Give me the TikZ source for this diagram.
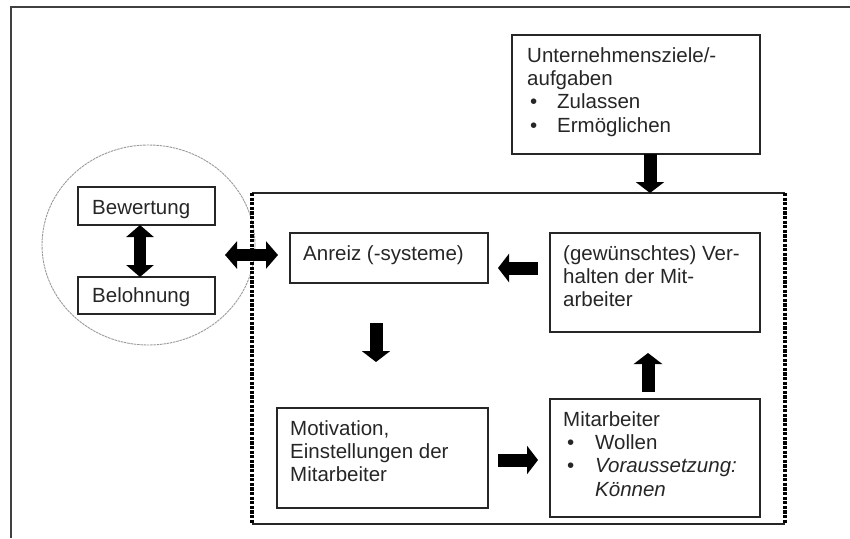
\documentclass[tikz,border=0pt]{standalone}
\usepackage{fontspec}
\setmainfont{Liberation Sans}
\usetikzlibrary{arrows.meta,shapes.geometric}
\begin{document}
\begin{tikzpicture}[x=1pt,y=-1pt,
  box/.style={draw=black!85, line width=1.3pt, inner sep=0pt},
  txt/.style={anchor=north west, inner sep=0pt, align=left,
    font=\fontsize{20.5}{23.3}\selectfont, text=black!85},
  blockarrow/.style={line width=13pt, black,
    -{Triangle[width=28pt,length=11pt]}},
  dblarrow/.style={line width=12.5pt, black,
    {Triangle[width=27pt,length=12pt]}-{Triangle[width=27pt,length=12pt]}},
  sidedash/.style={line width=3.2pt, black, dash pattern=on 3.2pt off 1.4pt},
  solidedge/.style={line width=1.3pt, black!85},
]
\useasboundingbox (0,0) rectangle (850,538);

% outer frame (open to the right and bottom)
\draw[line width=1.8pt, black!75] (11,538) -- (11,7) -- (850,7);

% evaluation / reward group
\node[ellipse, draw=black!40, line width=0.9pt, dash pattern=on 2.5pt off 0.8pt,
      minimum width=213pt, minimum height=200pt, inner sep=0pt] (grp) at (148.5,245) {};

% dashed system boundary
\draw[solidedge] (252,193) -- (785,193);
\draw[solidedge] (252,524) -- (785,524);
\draw[sidedash] (252,193) -- (252,524);
\draw[sidedash] (785,193) -- (785,524);

% boxes
\node[box, minimum width=248pt, minimum height=119pt] (uz)     at (636,94.5)  {};
\node[box, minimum width=198pt, minimum height=50pt]  (anreiz) at (389,258)   {};
\node[box, minimum width=210pt, minimum height=99pt]  (verh)   at (655,282.5) {};
\node[box, minimum width=211pt, minimum height=100pt] (motiv)  at (382.5,458) {};
\node[box, minimum width=210pt, minimum height=118pt] (mitarb) at (655,458)   {};
\node[box, minimum width=137pt, minimum height=38pt]  (bew)    at (146.5,206) {};
\node[box, minimum width=137pt, minimum height=37pt]  (bel)    at (146.5,295.5) {};

% box texts
\node[txt] (uz-t) at (527,45.7) {\strut Unternehmensziele/-\\aufgaben\\
  \hspace*{3pt}\makebox[27pt][l]{\textbullet}Zulassen\\
  \hspace*{3pt}\makebox[27pt][l]{\textbullet}Ermöglichen};
\node[txt] (anreiz-t) at (303,243.7) {\strut Anreiz (-systeme)};
\node[txt] (verh-t) at (563,243.7) {\strut(gewünschtes) Ver-\\halten der Mit-\\arbeiter};
\node[txt] (motiv-t) at (290,418.7) {\strut Motivation,\\Einstellungen der\\Mitarbeiter};
\node[txt] (mitarb-t) at (563,409.7) {\strut Mitarbeiter\\
  \hspace*{4pt}\makebox[28pt][l]{\textbullet}Wollen\\
  \hspace*{4pt}\makebox[28pt][l]{\textbullet}\textit{Voraussetzung:}\\
  \hspace*{32pt}\textit{Können}};
\node[txt] (bew-t) at (92,197.7) {\strut Bewertung};
\node[txt] (bel-t) at (92,285.7) {\strut Belohnung};

% arrow end points
\coordinate (uzA)  at (650,154);  \coordinate (uzB)  at (650,193);
\coordinate (vA)   at (538,268);  \coordinate (vB)   at (498,268);
\coordinate (aA)   at (376,323);  \coordinate (aB)   at (376,362);
\coordinate (mA)   at (498,460);  \coordinate (mB)   at (538,460);
\coordinate (miA)  at (648,392);  \coordinate (miB)  at (648,353);
\coordinate (gA)   at (225,255);  \coordinate (gB)   at (278,255);
\coordinate (bA)   at (140,225);  \coordinate (bB)   at (140,277);

% block arrows
\draw[blockarrow] (uzA) -- (uzB);
\draw[blockarrow] (vA) -- (vB);
\draw[blockarrow] (aA) -- (aB);
\draw[blockarrow] (mA) -- (mB);
\draw[blockarrow] (miA) -- (miB);
\draw[dblarrow] (gA) -- (gB);
\draw[dblarrow] (bA) -- (bB);
\end{tikzpicture}
\end{document}
